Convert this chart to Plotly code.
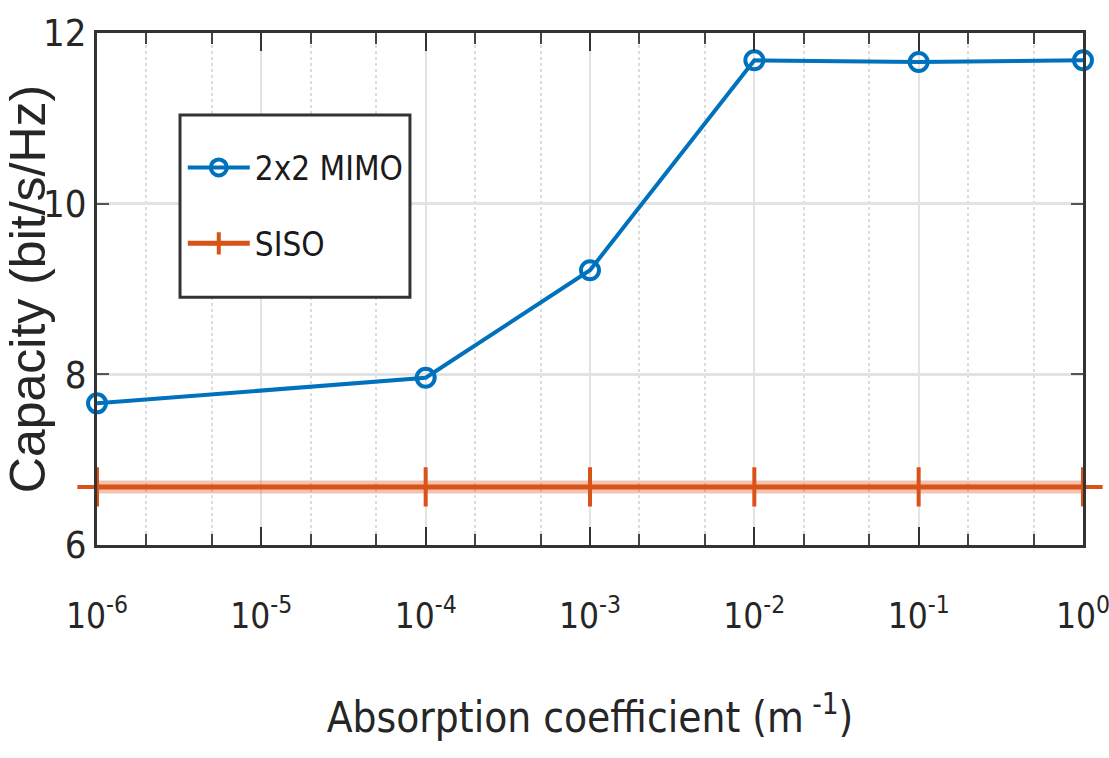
import plotly.graph_objects as go

# Data
absorption = [1e-6, 1e-4, 1e-3, 1e-2, 1e-1, 1e0]
mimo_capacity = [7.66, 7.96, 9.22, 11.68, 11.66, 11.68]
siso_capacity = [6.68, 6.68, 6.68, 6.68, 6.68, 6.68]
x_tick_vals = [1e-6, 1e-5, 1e-4, 1e-3, 1e-2, 1e-1, 1e0]
x_tick_text = ["10<sup>-6</sup>", "10<sup>-5</sup>", "10<sup>-4</sup>", "10<sup>-3</sup>",
               "10<sup>-2</sup>", "10<sup>-1</sup>", "10<sup>0</sup>"]
y_tick_vals = [6, 8, 10, 12]

FONT = "Liberation Sans Narrow, DejaVu Sans Condensed, Liberation Sans, sans-serif"
BLUE = "#0072BD"
ORANGE = "#D95319"

fig = go.Figure()
fig.add_trace(go.Scatter(
    x=absorption, y=siso_capacity, mode="lines", showlegend=False, hoverinfo="skip",
    line=dict(color="rgba(217,83,25,0.35)", width=13), cliponaxis=False,
))
fig.add_trace(go.Scatter(
    x=absorption, y=mimo_capacity, name="2x2 MIMO", mode="lines+markers",
    line=dict(color=BLUE, width=4),
    marker=dict(symbol="circle-open", size=18, color=BLUE, line=dict(width=4, color=BLUE)),
    cliponaxis=False, legendgroup="a",
))
fig.add_trace(go.Scatter(
    x=absorption, y=siso_capacity, name="SISO", mode="lines+markers",
    line=dict(color=ORANGE, width=5),
    marker=dict(symbol="cross-thin-open", size=28, color=ORANGE, line=dict(width=4, color=ORANGE)),
    cliponaxis=False, legendgroup="b",
))

# legend box
fig.add_shape(type="rect", xref="paper", yref="paper",
              x0=0.0842, x1=0.3174, y0=0.484, y1=0.84,
              fillcolor="white", line=dict(color="#333333", width=3), layer="above")

fig.update_layout(
    width=1109, height=758,
    margin=dict(l=97, r=26, t=33, b=213, autoexpand=False),
    paper_bgcolor="white", plot_bgcolor="white",
    font=dict(family=FONT, size=36, color="#262626"),
    showlegend=True,
    legend=dict(
        x=0.087, y=0.792, xanchor="left", yanchor="top",
        bgcolor="rgba(0,0,0,0)", borderwidth=0,
        font=dict(family=FONT, size=33, color="#1a1a1a"),
        traceorder="grouped", tracegroupgap=30, itemwidth=62,
    ),
    xaxis=dict(
        type="log", range=[-6.0001, 0.0001], automargin=False,
        tickvals=x_tick_vals, ticktext=x_tick_text, ticklabeloverflow="allow",
        ticks="inside", ticklen=18, tickwidth=2, tickcolor="#333333",
        showline=True, linecolor="#333333", linewidth=3, mirror="ticks",
        showgrid=True, gridcolor="#e3e3e3", gridwidth=2,
        tickfont=dict(family=FONT, size=35, color="#262626"),
        ticklabelstandoff=38,
        minor=dict(ticks="inside", ticklen=11, tickwidth=2, tickcolor="#444444",
                   showgrid=True, gridcolor="#dcdcdc", gridwidth=1.5, griddash="dot"),
        title=dict(text="Absorption coefficient (m<sup> -1</sup>)",
                   font=dict(family=FONT, size=42, color="#262626"), standoff=68),
        zeroline=False,
    ),
    yaxis=dict(
        range=[6, 12], tickvals=y_tick_vals, automargin=False,
        ticks="inside", ticklen=12, tickwidth=2, tickcolor="#555555",
        showline=True, linecolor="#333333", linewidth=3, mirror="ticks",
        showgrid=True, gridcolor="#e3e3e3", gridwidth=3,
        tickfont=dict(family=FONT, size=38, color="#262626"),
        title=dict(text="Capacity (bit/s/Hz)",
                   font=dict(family="Liberation Sans, Arial, sans-serif", size=50, color="#262626"),
                   standoff=10),
        zeroline=False,
    ),
)

fig.write_html("out.html")
